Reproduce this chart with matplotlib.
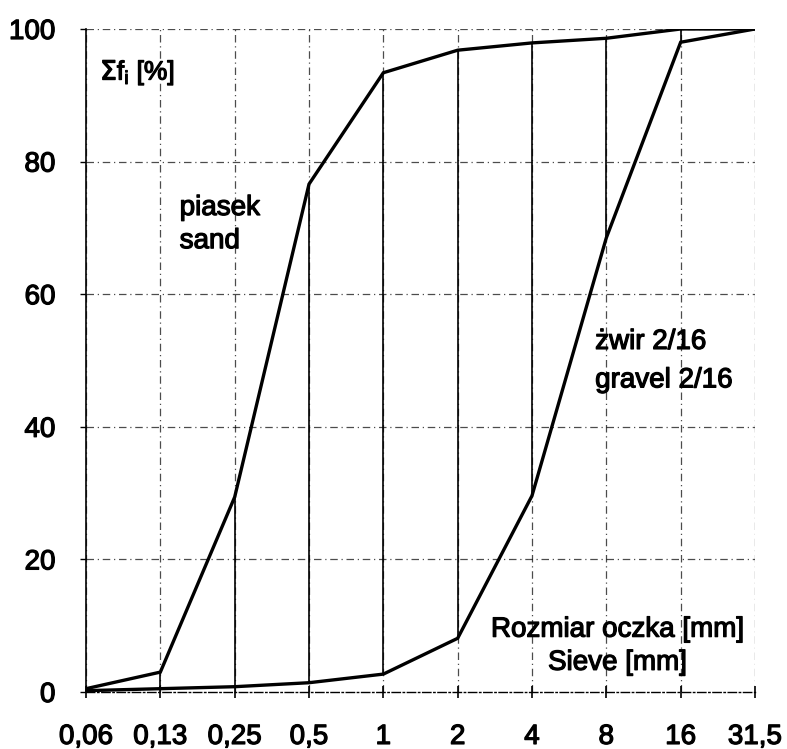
import matplotlib
matplotlib.use("Agg")
import matplotlib.pyplot as plt
import matplotlib.patheffects as pe
import numpy as np

sieves = ["0,06", "0,13", "0,25", "0,5", "1", "2", "4", "8", "16", "31,5"]
sand = [0.5, 3.0, 29.4, 76.6, 93.4, 96.8, 97.9, 98.6, 100.0, 100.0]
gravel = [0.2, 0.5, 0.8, 1.4, 2.7, 8.1, 29.6, 68.5, 98.0, 100.0]
yticks = [0, 20, 40, 60, 80, 100]

plt.rcParams['font.family'] = ['Liberation Sans', 'DejaVu Sans']
heavy = [pe.withStroke(linewidth=0.9, foreground="black")]

fig = plt.figure(figsize=(7.87, 7.49), dpi=100)
ax = fig.add_axes([0.1093, 0.0761, 0.8500, 0.8852])

x = np.arange(len(sieves))

# dashed grid
for xi in x:
    ax.plot([xi, xi], [0, 100], color="black", lw=0.9, ls=(0, (6, 3, 1, 3)), alpha=0.7, zorder=1)
for yv in yticks[1:]:
    ax.plot([x[0], x[-1]], [yv, yv], color="black", lw=0.9, ls=(0, (6, 3, 1, 3)), alpha=0.7, zorder=1)

# solid drop lines between curves
for xi, s, g in zip(x, sand, gravel):
    lo, hi = min(s, g), max(s, g)
    ax.plot([xi, xi], [lo, hi], color="black", lw=1.2, zorder=2)

ax.plot(x, sand, color="black", lw=2.4, zorder=3, solid_joinstyle="miter")
ax.plot(x, gravel, color="black", lw=2.4, zorder=3, solid_joinstyle="miter")

ax.set_xlim(x[0], x[-1])
ax.set_ylim(0, 100)
ax.set_xticks(x)
ax.set_xticklabels(sieves)
ax.set_yticks(yticks)
ax.set_yticklabels([str(v) for v in yticks])

for side in ["top", "right"]:
    ax.spines[side].set_visible(False)
ax.spines["bottom"].set_linestyle((0, (6, 2, 1, 2)))
ax.spines["bottom"].set_linewidth(1.0)
ax.spines["left"].set_linewidth(1.2)

ax.tick_params(axis="x", direction="inout", length=8, width=1.2, labelsize=20, pad=19)
ax.tick_params(axis="y", direction="out", length=4, width=1.0, labelsize=20, pad=18)
for lab in ax.get_xticklabels() + ax.get_yticklabels():
    lab.set_path_effects(heavy)

kw = dict(fontsize=20, va="center", path_effects=heavy)
ax.text(0.19, 93.5, r"$\Sigma$f$_\mathregular{i}$ [%]", fontsize=19, va="center", ha="left", path_effects=heavy)
ax.text(1.26, 73.0, "piasek", ha="left", **kw)
ax.text(1.26, 68.0, "sand", ha="left", **kw)
ax.text(6.85, 52.8, "żwir 2/16", ha="left", **kw)
ax.text(6.85, 47.0, "gravel 2/16", ha="left", **kw)
ax.text(7.15, 9.4, "Rozmiar oczka [mm]", ha="center", **kw)
ax.text(7.15, 4.4, "Sieve [mm]", ha="center", **kw)

fig.savefig("out.png", dpi=100)
